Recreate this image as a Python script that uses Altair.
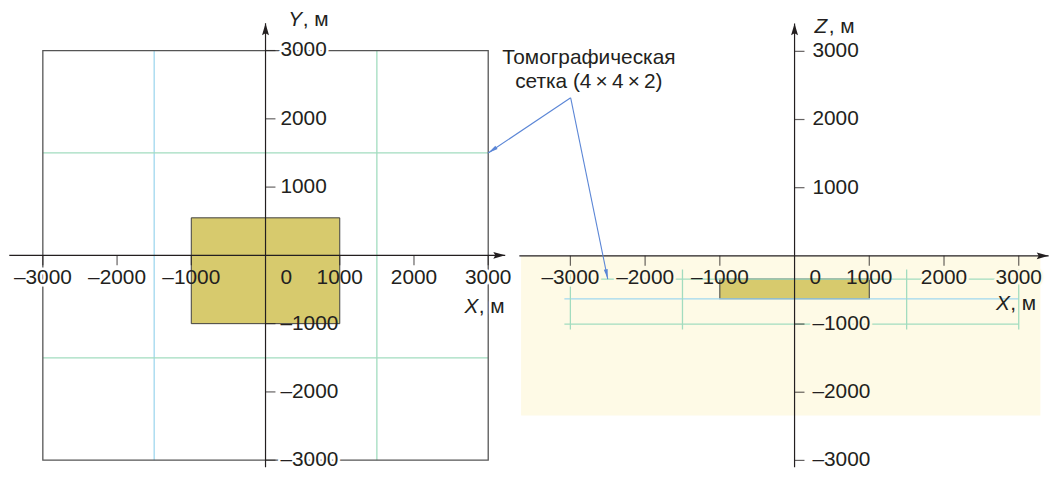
import math
import altair as alt
import pandas as pd

# ------------------------------------------------------------------ data (metres)
# Plan view X–Y (left)
plan_frame_x = [-3000, 3000]
plan_frame_y = [-3000, 3000]
plan_body_x = [-1000, 1000]
plan_body_y = [-1000, 550]
plan_grid_x_blue = [-1500]
plan_grid_x_green = [1500]
plan_grid_y_green = [-1500, 1500]
plan_xaxis = [-3452, 3229]
plan_yaxis = [-3103, 3398]

# Section X–Z (right)
sect_soil_x = [-3660, 3290]
sect_soil_z = [-2340, 0]
sect_body_x = [-1000, 1000]
sect_body_z = [-630, -340]
sect_grid_z_green = [-340, -1000]
sect_grid_z_blue = [-630]
sect_grid_x_span = [-3080, 3000]
sect_grid_x = [-3000, -1500, 1500, 3000]
sect_grid_z_span = [-1080, -200]
sect_xaxis = [-3683, 3400]
sect_zaxis = [-3100, 3410]

# Axis ticks and labels
tick_values = [-3000, -2000, -1000, 1000, 2000, 3000]
tick_labels = ["–3000", "–2000", "–1000", "1000", "2000", "3000"]
plan_halo_x = [-3000, 3000]
plan_halo_x_labels = ["–3000", "3000"]
plan_halo_y = [-3000, 3000]
plan_halo_y_labels = ["–3000", "3000"]
sect_halo_x = [-3000, -2000, 2000, 3000]
sect_halo_x_labels = ["–3000", "–2000", "2000", "3000"]

# Annotation
note_lines = ["Томографическая", "сетка (4\u2009×\u20094\u2009×\u20092)"]
note_x = [-2753, -2753]
note_z = [2901, 2547]
note_start_plan = (4111, 2308)
note_end_plan = (3000, 1500)
note_start_sect = (-2996, 2319)
note_end_sect = (-2500, -340)

# ------------------------------------------------------------------ style
W, H = 1049, 461
FONT = "Liberation Sans"
FS = 21
INK = "#231f20"
FRAME = "#555555"
GREEN = "#a2dcbf"
BLUE = "#9fd7ef"
BODY = "#d7ca6d"
SOIL = "#fefae6"
NOTE = "#5b86d6"

LX = [-3469.3, 10554.8]
LY = [-3103.2, 3597.4]
RX = [-10525.9, 3405.0]
RZ = [-3100.4, 3609.9]

AXIS_HEAD = "M0,0L0.7,2.4L0,2L-0.7,2.4Z"
NOTE_HEAD = "M0,0L0.4,2L-0.4,2Z"


def X(dom, f="x"):
    return alt.X(f + ":Q", scale=alt.Scale(domain=dom, nice=False, zero=False), axis=None)


def Y(dom, f="y"):
    return alt.Y(f + ":Q", scale=alt.Scale(domain=dom, nice=False, zero=False), axis=None)


def px(v, dom):
    return (v - dom[0]) / (dom[1] - dom[0]) * W


def py(v, dom):
    return H - (v - dom[0]) / (dom[1] - dom[0]) * H


def head_angle(p0, p1, xdom, ydom):
    ddx = px(p1[0], xdom) - px(p0[0], xdom)
    ddy = py(p1[1], ydom) - py(p0[1], ydom)
    return math.degrees(math.atan2(ddx, -ddy)) % 360


def hrules(ys, span, xdom, ydom, color, width=1.0):
    df = pd.DataFrame({"y": ys, "x": [span[0]] * len(ys), "x2": [span[1]] * len(ys)})
    return alt.Chart(df).mark_rule(color=color, strokeWidth=width).encode(
        x=X(xdom), x2="x2:Q", y=Y(ydom))


def vrules(xs, span, xdom, ydom, color, width=1.0):
    df = pd.DataFrame({"x": xs, "y": [span[0]] * len(xs), "y2": [span[1]] * len(xs)})
    return alt.Chart(df).mark_rule(color=color, strokeWidth=width).encode(
        x=X(xdom), y=Y(ydom), y2="y2:Q")


def rect(xs, ys, xdom, ydom, **kw):
    df = pd.DataFrame({"x": [xs[0]], "x2": [xs[1]], "y": [ys[0]], "y2": [ys[1]]})
    return alt.Chart(df).mark_rect(**kw).encode(x=X(xdom), x2="x2:Q", y=Y(ydom), y2="y2:Q")


def points(xs, ys, xdom, ydom, shape, angle, color, size=100):
    df = pd.DataFrame({"x": xs, "y": ys})
    return alt.Chart(df).mark_point(shape=shape, size=size, angle=angle, filled=True,
                                    color=color, opacity=1, strokeWidth=0).encode(
        x=X(xdom), y=Y(ydom))


def texts(xs, ys, labels, xdom, ydom, halo=None, **kw):
    df = pd.DataFrame({"x": xs, "y": ys, "t": labels})
    base = dict(font=FONT, fontSize=FS, color=INK, baseline="middle")
    base.update(kw)
    if halo:
        base.update(stroke=halo, strokeWidth=5, strokeJoin="round")
    return alt.Chart(df).mark_text(**base).encode(x=X(xdom), y=Y(ydom), text="t:N")


def ticks(xs, ys, xdom, ydom, orient):
    df = pd.DataFrame({"x": xs, "y": ys})
    off = dict(yOffset=5) if orient == "vertical" else dict(xOffset=5)
    return alt.Chart(df).mark_tick(orient=orient, size=10, thickness=1.2, color=INK, **off).encode(
        x=X(xdom), y=Y(ydom))


def line(p0, p1, xdom, ydom, color):
    df = pd.DataFrame({"x": [p0[0]], "y": [p0[1]], "x2": [p1[0]], "y2": [p1[1]]})
    return alt.Chart(df).mark_rule(color=color, strokeWidth=1.1).encode(
        x=X(xdom), y=Y(ydom), x2="x2:Q", y2="y2:Q")


def title(x, y, letter, xdom, ydom, dx, dy, halo=None):
    """Italic axis letter followed by upright ', м'."""
    return [
        texts([x], [y], [letter], xdom, ydom, halo=halo, align="left", dx=dx, dy=dy, fontStyle="italic"),
        texts([x], [y], [", м"], xdom, ydom, halo=halo, align="left", dx=dx + 14.5, dy=dy),
    ]


n = len(tick_values)
zeros = [0] * n
layers = []

# ---------------- left: plan view
layers += [
    vrules(plan_grid_x_blue, plan_frame_y, LX, LY, BLUE, 1.3),
    vrules(plan_grid_x_green, plan_frame_y, LX, LY, GREEN, 1.3),
    hrules(plan_grid_y_green, plan_frame_x, LX, LY, GREEN, 1.3),
    rect(plan_frame_x, plan_frame_y, LX, LY, fillOpacity=0, stroke=FRAME, strokeWidth=1.3),
    rect(plan_body_x, plan_body_y, LX, LY, fill=BODY, stroke="#3f3f3f", strokeWidth=1),
    hrules([0], plan_xaxis, LX, LY, INK, 1.2),
    vrules([0], plan_yaxis, LX, LY, INK, 1.2),
    points([plan_xaxis[1]], [0], LX, LY, AXIS_HEAD, 90, INK),
    points([0], [plan_yaxis[1]], LX, LY, AXIS_HEAD, 0, INK),
    ticks(tick_values, zeros, LX, LY, "vertical"),
    ticks(zeros, tick_values, LX, LY, "horizontal"),
    texts(plan_halo_x, [0] * len(plan_halo_x), plan_halo_x_labels, LX, LY, halo="white", align="center", dy=23),
    texts([0] * len(plan_halo_y), plan_halo_y, plan_halo_y_labels, LX, LY, halo="white", align="left", dx=15),
]
layers += title(3000, 0, "X", LX, LY, -24, 52, halo="white")
layers += [
    texts(tick_values, zeros, tick_labels, LX, LY, align="center", dy=23),
    texts([0], [0], ["0"], LX, LY, align="center", dx=21, dy=23),
    texts(zeros, tick_values, tick_labels, LX, LY, align="left", dx=15),
]
layers += title(0, plan_yaxis[1], "Y", LX, LY, 23, -3.5)
layers += title(3000, 0, "X", LX, LY, -24, 52)

# ---------------- right: section
layers += [
    rect(sect_soil_x, sect_soil_z, RX, RZ, fill=SOIL, strokeWidth=0),
    rect(sect_body_x, sect_body_z, RX, RZ, fill=BODY, stroke="#4a4a4a", strokeWidth=1.1),
    hrules(sect_grid_z_green, sect_grid_x_span, RX, RZ, GREEN, 1.3),
    hrules(sect_grid_z_blue, sect_grid_x_span, RX, RZ, BLUE, 1.3),
    vrules(sect_grid_x, sect_grid_z_span, RX, RZ, GREEN, 1.3),
    hrules([0], sect_xaxis, RX, RZ, INK, 1.2),
    vrules([0], sect_zaxis, RX, RZ, INK, 1.2),
    points([sect_xaxis[1]], [0], RX, RZ, AXIS_HEAD, 90, INK),
    points([0], [sect_zaxis[1]], RX, RZ, AXIS_HEAD, 0, INK),
    ticks(tick_values, zeros, RX, RZ, "vertical"),
    ticks(zeros, tick_values, RX, RZ, "horizontal"),
    texts(sect_halo_x, [0] * len(sect_halo_x), sect_halo_x_labels, RX, RZ, halo=SOIL, align="center", dy=22),
    texts([0], [-1000], ["–1000"], RX, RZ, halo=SOIL, align="left", dx=18),
    texts(tick_values, zeros, tick_labels, RX, RZ, align="center", dy=22),
    texts([0], [0], ["0"], RX, RZ, align="center", dx=21, dy=22),
    texts(zeros, tick_values, tick_labels, RX, RZ, align="left", dx=18),
]
layers += title(0, sect_zaxis[1], "Z", RX, RZ, 20, 3.5)
layers += title(3000, 0, "X", RX, RZ, -23, 49)

# ---------------- annotation
a_plan = head_angle(note_start_plan, note_end_plan, LX, LY)
a_sect = head_angle(note_start_sect, note_end_sect, RX, RZ)
layers += [
    line(note_start_plan, note_end_plan, LX, LY, NOTE),
    line(note_start_sect, note_end_sect, RX, RZ, NOTE),
    points([note_end_plan[0]], [note_end_plan[1]], LX, LY, NOTE_HEAD, a_plan, NOTE),
    points([note_end_sect[0]], [note_end_sect[1]], RX, RZ, NOTE_HEAD, a_sect, NOTE),
    texts(note_x, note_z, note_lines, RX, RZ, align="center", fontSize=21),
]

chart = (
    alt.layer(*layers)
    .resolve_scale(x="independent", y="independent")
    .properties(width=W, height=H, padding=0, autosize=alt.AutoSizeParams(type="none"))
    .configure_view(stroke=None)
)

chart.save("out.html", embed_options={"renderer": "svg", "actions": False})
